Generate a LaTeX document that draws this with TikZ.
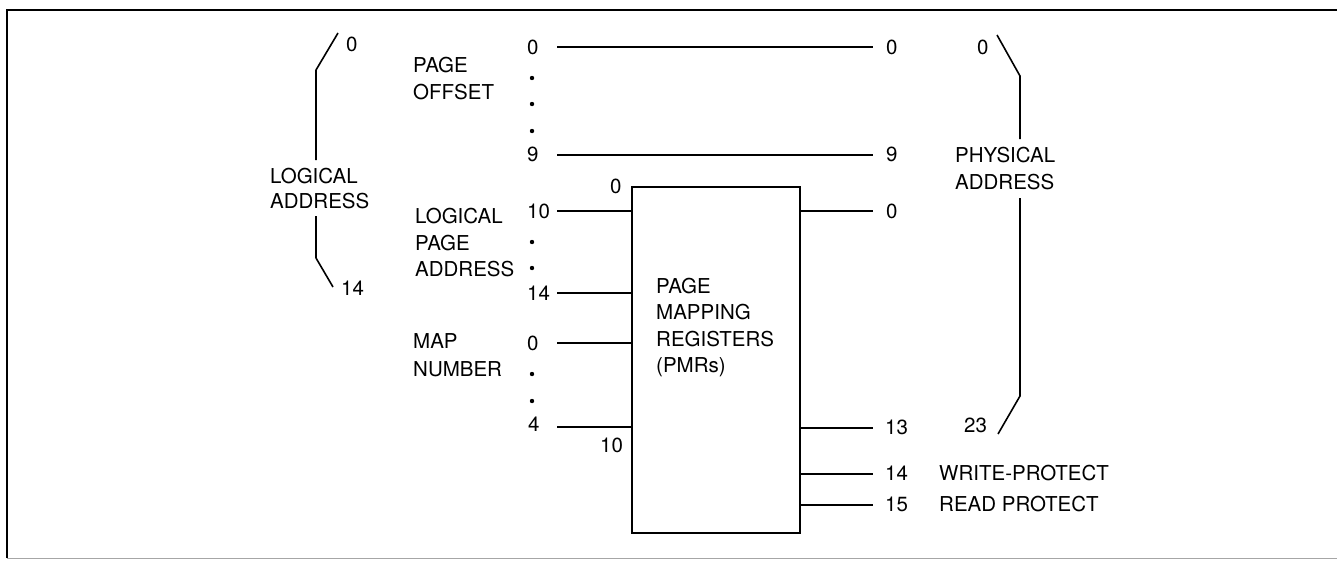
\documentclass[tikz,border=0pt]{standalone}
\usepackage{fontspec}
\setmainfont{TeX Gyre Heros}
\begin{document}
\begin{tikzpicture}[x=1pt,y=-1pt,
  lbl/.style={anchor=base west,inner sep=0pt,font=\fontsize{20.5}{24}\selectfont},
  wire/.style={line width=1.6pt},
  brk/.style={line width=1.6pt,line join=round},
  dotmark/.style={circle,fill=black,inner sep=0pt,minimum size=4.4pt},
  regbox/.style={draw,line width=2pt,rectangle,inner sep=0pt}]
\useasboundingbox (0,0) rectangle (1337,560);
% frame
\coordinate (fTL) at (7,10);
\coordinate (fTR) at (1337,10);
\coordinate (fBL) at (7,558);
\coordinate (fBR) at (1337,558);
\draw[line width=2.4pt] (fBL) -- (fTL) -- (fTR);
\draw[line width=0.6pt,black!35] (fBL) -- (fBR);

% register box
\node[regbox,minimum width=168pt,minimum height=346pt] (pmr) at (716,360) {};
\node[lbl] (t1) at (656,293) {PAGE};
\node[lbl] (t2) at (656,319) {MAPPING};
\node[lbl] (t3) at (656,346) {REGISTERS};
\node[lbl] (t4) at (656,372) {(PMRs)};
\node[lbl] (b0) at (610,193) {0};
\node[lbl] (b10) at (600,452) {10};

% left bracket: logical address
\coordinate (la1) at (338,33);
\coordinate (la2) at (316,70);
\coordinate (la3) at (316,160);
\coordinate (la4) at (316,216);
\coordinate (la5) at (316,258);
\coordinate (la6) at (333,287);
\draw[brk] (la1) -- (la2) -- (la3);
\draw[brk] (la4) -- (la5) -- (la6);
\node[lbl] (la0) at (346,51) {0};
\node[lbl] (la14) at (341,295) {14};
\node[lbl] (laA) at (270,183) {LOGICAL};
\node[lbl] (laB) at (270,208) {ADDRESS};

% page offset
\node[lbl] (po1) at (413,72) {PAGE};
\node[lbl] (po2) at (413,99) {OFFSET};
\node[lbl] (i0) at (527,54) {0};
\node[lbl] (i9) at (527,161) {9};
\node[dotmark] (d1) at (532,78) {};
\node[dotmark] (d2) at (532,104) {};
\node[dotmark] (d3) at (532,131) {};
\coordinate (w0a) at (557,47);
\coordinate (w0b) at (873,47);
\coordinate (w9a) at (557,155);
\coordinate (w9b) at (873,155);
\draw[wire] (w0a) -- (w0b);
\draw[wire] (w9a) -- (w9b);
\node[lbl] (o0) at (886,54) {0};
\node[lbl] (o9) at (886,161) {9};

% logical page address
\node[lbl] (lp1) at (415,223) {LOGICAL};
\node[lbl] (lp2) at (415,250) {PAGE};
\node[lbl] (lp3) at (415,276) {ADDRESS};
\node[lbl] (i10) at (527,218) {10};
\node[lbl] (i14) at (527,300) {14};
\node[dotmark] (d4) at (532,242) {};
\node[dotmark] (d5) at (532,268) {};
\coordinate (w10) at (557,211);
\coordinate (w14) at (557,293);
\draw[wire] (w10) -- (w10 -| pmr.west);
\draw[wire] (w14) -- (w14 -| pmr.west);

% map number
\node[lbl] (mn1) at (413,348) {MAP};
\node[lbl] (mn2) at (413,376) {NUMBER};
\node[lbl] (m0) at (527,350) {0};
\node[lbl] (m4) at (528,431) {4};
\node[dotmark] (d6) at (532,374) {};
\node[dotmark] (d7) at (532,401) {};
\coordinate (wm0) at (557,343);
\coordinate (wm4) at (557,427);
\draw[wire] (wm0) -- (wm0 -| pmr.west);
\draw[wire] (wm4) -- (wm4 -| pmr.west);

% outputs
\coordinate (q0) at (873,211);
\coordinate (q13) at (873,428);
\coordinate (q14) at (873,474);
\coordinate (q15) at (873,505);
\draw[wire] (q0 -| pmr.east) -- (q0);
\draw[wire] (q13 -| pmr.east) -- (q13);
\draw[wire] (q14 -| pmr.east) -- (q14);
\draw[wire] (q15 -| pmr.east) -- (q15);
\node[lbl] (p0) at (886,218) {0};
\node[lbl] (p13) at (885,434) {13};
\node[lbl] (p14) at (885,480) {14};
\node[lbl] (p15) at (885,511) {15};
\node[lbl] (wp) at (939,480) {WRITE-PROTECT};
\node[lbl] (rp) at (939,511) {READ PROTECT};

% right bracket: physical address
\coordinate (pa1) at (997,35);
\coordinate (pa2) at (1020,76);
\coordinate (pa3) at (1020,139);
\coordinate (pa4) at (1020,198);
\coordinate (pa5) at (1020,396);
\coordinate (pa6) at (998,434);
\draw[brk] (pa1) -- (pa2) -- (pa3);
\draw[brk] (pa4) -- (pa5) -- (pa6);
\node[lbl] (pa0) at (977,54) {0};
\node[lbl] (pa23) at (964,432) {23};
\node[lbl] (paA) at (955,162) {PHYSICAL};
\node[lbl] (paB) at (955,189) {ADDRESS};
\end{tikzpicture}
\end{document}
